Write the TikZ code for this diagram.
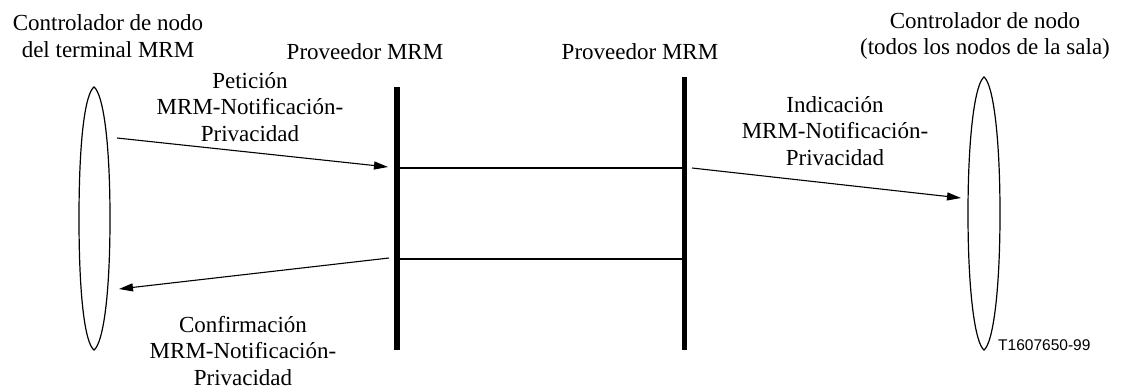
\documentclass[tikz,border=0pt]{standalone}
\usepackage{fontspec}
\setmainfont{Liberation Serif}
\newfontfamily\figsans{Liberation Sans}
\usetikzlibrary{arrows.meta}

\tikzset{
    lens/.style={line width=1.2pt},
    provider/.style={line width=5.5pt},
    link/.style={line width=1.8pt},
    msg/.style={line width=1.1pt, -{Triangle[length=14pt,width=8pt]}},
    caption/.style={align=center, inner sep=0pt, font=\fontsize{23}{26.5}\selectfont},
}

\begin{document}
\begin{tikzpicture}[x=1pt,y=-1pt]
    \useasboundingbox (0,0) rectangle (1127,390);
    % terminals
    \draw[lens] (94,87) .. controls (85,94) and (79,140) .. (79,218.5)
        .. controls (79,297) and (85,343) .. (94,350)
        .. controls (103,343) and (110,297) .. (110,218.5)
        .. controls (110,140) and (103,94) .. cycle;
    \draw[lens] (984,77) .. controls (975,84) and (968,135) .. (968,213.5)
        .. controls (968,292) and (975,343) .. (984,350)
        .. controls (993,343) and (1000,292) .. (1000,213.5)
        .. controls (1000,135) and (993,84) .. cycle;
    \node[caption] (ctlalabel) at (108,36) {Controlador de nodo\\del terminal MRM};
    \node[caption] (ctlblabel) at (985,36) {Controlador de nodo\\(todos los nodos de la sala)};
    % providers
    \coordinate (pa top) at (397,87);
    \coordinate (pa bot) at (397,350);
    \coordinate (pb top) at (684.5,77);
    \coordinate (pb bot) at (684.5,350);
    \draw[provider] (pa top) -- (pa bot);
    \draw[provider] (pb top) -- (pb bot);
    \node[caption] (palabel) at (365,52) {Proveedor MRM};
    \node[caption] (pblabel) at (640,52) {Proveedor MRM};
    \draw[link] (pa top |- 0,168) -- (pb top |- 0,168);
    \draw[link] (pa top |- 0,259) -- (pb top |- 0,259);
    % primitives
    \coordinate (req from) at (117,138);
    \coordinate (req to) at (388,167);
    \coordinate (ind from) at (692,168);
    \coordinate (ind to) at (961,198);
    \coordinate (cnf from) at (389,258);
    \coordinate (cnf to) at (119,289);
    \draw[msg] (req from) -- (req to);
    \draw[msg] (ind from) -- (ind to);
    \draw[msg] (cnf from) -- (cnf to);
    \node[caption] (reqlabel) at (250,107) {Petición\\MRM-Notificación-\\Privacidad};
    \node[caption] (indlabel) at (835,131) {Indicación\\MRM-Notificación-\\Privacidad};
    \node[caption] (cnflabel) at (243,351) {Confirmación\\MRM-Notificación-\\Privacidad};
    \node[anchor=west, inner sep=0pt, font=\figsans\fontsize{15.5}{18}\selectfont] (figid) at (998,345) {T1607650-99};
\end{tikzpicture}
\end{document}
